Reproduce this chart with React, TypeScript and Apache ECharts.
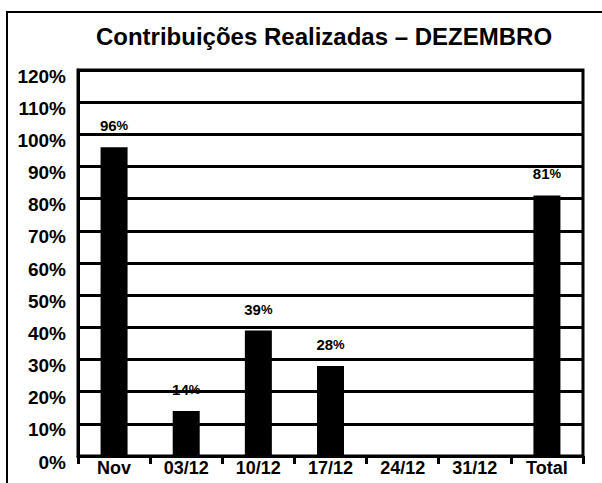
import React, { useEffect, useRef } from "react";
import * as echarts from "echarts";

const categories = ["Nov", "03/12", "10/12", "17/12", "24/12", "31/12", "Total"];
const values: (number | null)[] = [96, 14, 39, 28, null, null, 81];
const titleText = "Contribuições Realizadas – DEZEMBRO";

const FONT = "'Liberation Sans', Arial, sans-serif";

export default function App() {
  const ref = useRef<HTMLDivElement>(null);
  useEffect(() => {
    if (!ref.current) return;
    const chart = echarts.init(ref.current, null, { renderer: "svg" });
    chart.setOption({
      animation: false,
      backgroundColor: "#ffffff",
      title: {
        text: titleText,
        left: 319,
        textAlign: "center",
        top: 19,
        textStyle: { fontFamily: FONT, fontSize: 24, fontWeight: "bold", color: "#000" },
      },
      graphic: [
        {
          type: "rect",
          shape: { x: 7, y: 12, width: 620, height: 500 },
          style: { fill: "none", stroke: "#000", lineWidth: 2 },
          silent: true,
        },
      ],
      grid: {
        left: 78,
        right: 19,
        top: 70,
        bottom: 27,
        show: true,
        borderColor: "#000",
        borderWidth: 3,
        containLabel: false,
      },
      xAxis: {
        type: "category",
        data: categories,
        axisLine: { show: true, lineStyle: { color: "#000", width: 3 } },
        axisTick: { show: true, length: 8, lineStyle: { color: "#000", width: 3 } },
        axisLabel: {
          color: "#000",
          fontFamily: FONT,
          fontSize: 18,
          fontWeight: "bold",
          margin: 3,
          interval: 0,
        },
      },
      yAxis: {
        type: "value",
        min: 0,
        max: 120,
        interval: 10,
        axisLine: { show: true, lineStyle: { color: "#000", width: 3 } },
        axisTick: { show: false },
        splitLine: { show: true, lineStyle: { color: "#000", width: 3 } },
        axisLabel: {
          formatter: (v: number) => `{a|${v}%}`,
          margin: 12,
          rich: {
            a: {
              color: "#000",
              fontFamily: FONT,
              fontSize: 19,
              fontWeight: "bold",
              padding: [12, 0, 0, 0],
            },
          },
        },
      },
      series: [
        {
          type: "bar",
          data: values,
          barWidth: 27,
          itemStyle: { color: "#000" },
          label: {
            show: true,
            position: "top",
            distance: 14,
            formatter: (p: any) => (p.value == null ? "" : `{n|${p.value}}{p|%}`),
            rich: {
              n: { fontFamily: FONT, fontSize: 15, fontWeight: "bold", color: "#000" },
              p: { fontFamily: FONT, fontSize: 13, fontWeight: "bold", color: "#000" },
            },
          },
        },
      ],
    });
    return () => chart.dispose();
  }, []);
  return (
    <div
      ref={ref}
      style={{ position: "fixed", left: 0, top: 0, width: 602, height: 483 }}
    />
  );
}
